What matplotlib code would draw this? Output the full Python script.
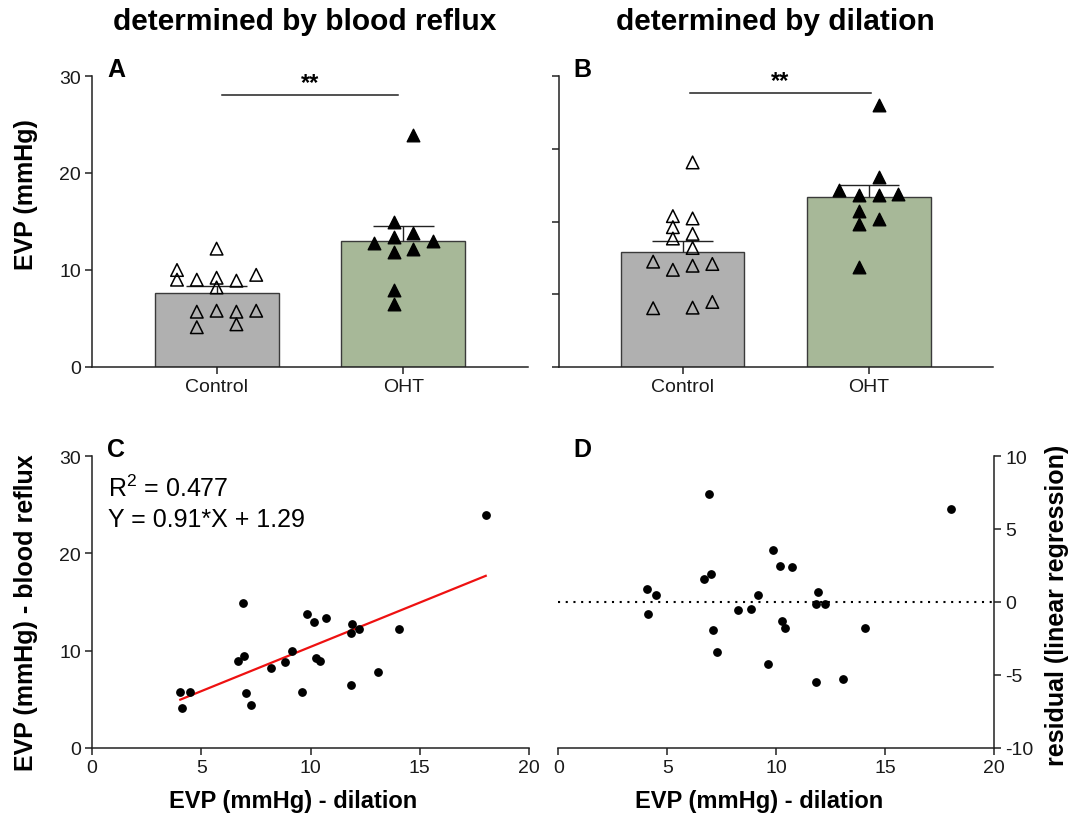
import matplotlib
matplotlib.use("Agg")
import matplotlib.pyplot as plt

plt.rcParams['font.family'] = ['Liberation Sans', 'DejaVu Sans']
plt.rcParams['mathtext.fontset'] = 'custom'
plt.rcParams['mathtext.rm'] = 'Liberation Sans'
plt.rcParams['axes.unicode_minus'] = False

# panel A - EVP determined by blood reflux (mmHg)
a_control = [12.2, 10.0, 9.0, 9.0, 9.2, 8.9, 9.5, 8.2, 5.7, 5.8, 5.7, 5.8, 4.1, 4.4]
a_control_slot = [0, -2, -2, -1, 0, 1, 2, 0, -1, 0, 1, 2, -1, 1]
a_oht = [23.9, 14.9, 13.4, 13.8, 12.8, 13.0, 11.9, 12.2, 7.9, 6.5]
a_oht_slot = [0.5, -0.5, -0.5, 0.5, -1.5, 1.5, -0.5, 0.5, -0.5, -0.5]
a_mean = [7.66, 13.0]
a_sem = [0.65, 1.55]

# panel B - EVP determined by dilation (mmHg)
b_control = [14.06, 10.37, 10.21, 9.61, 8.83, 9.15, 8.18, 7.24, 6.68, 6.96, 7.08, 4.04, 4.08, 4.47]
b_control_slot = [0.5, -0.5, 0.5, -0.5, -0.5, 0.5, 0.5, -1.5, -0.5, 0.5, 1.5, -1.5, 0.5, 1.5]
b_oht = [18.02, 13.09, 12.16, 11.82, 11.82, 11.91, 10.69, 10.14, 9.84, 6.84]
b_oht_slot = [0.5, 0.5, -1.5, -0.5, 0.5, 1.5, -0.5, 0.5, -0.5, -0.5]
b_mean = [7.90, 11.68]
b_sem = [0.76, 0.86]

groups = ["Control", "OHT"]

# panel C - correlation
c_x = [18.02, 6.90, 9.84, 10.17, 10.69, 11.91, 11.84, 12.22, 14.07, 9.14, 6.70, 6.97,
       8.83, 8.21, 10.24, 10.42, 13.07, 11.85, 4.04, 4.47, 4.10, 7.06, 7.26, 9.62]
c_y = [23.95, 14.87, 13.74, 12.95, 13.33, 12.78, 11.82, 12.20, 12.20, 9.97, 8.91, 9.46,
       8.84, 8.19, 9.25, 8.91, 7.84, 6.51, 5.79, 5.79, 4.11, 5.68, 4.45, 5.76]
slope, intercept = 0.91, 1.29
r_squared = 0.477
fit_range = [4.04, 18.02]

# panel D - residuals
d_x = [18.01, 6.90, 9.85, 10.17, 10.72, 6.99, 6.70, 4.07, 4.50, 9.14, 11.93, 11.83,
       12.23, 4.11, 8.23, 8.84, 10.24, 10.41, 14.07, 7.08, 7.29, 9.63, 11.83, 13.07]
d_res = [6.35, 7.36, 3.53, 2.45, 2.36, 1.90, 1.58, 0.85, 0.46, 0.44, 0.69, -0.18,
         -0.16, -0.87, -0.55, -0.48, -1.33, -1.81, -1.83, -1.97, -3.44, -4.27, -5.48, -5.30]

W, H = 1072, 820
fig = plt.figure(figsize=(W / 100, H / 100), dpi=100)


def box(l, t, r, b):
    return [l / W, 1 - b / H, (r - l) / W, (b - t) / H]


axA = fig.add_axes(box(92, 77, 528, 368))
axB = fig.add_axes(box(558.6, 77, 993, 368))
axC = fig.add_axes(box(92, 457, 529, 749))
axD = fig.add_axes(box(558.3, 457, 994.3, 748.5))

spine_c = '#222222'
tick_fs = 14


def style(ax):
    for s in ax.spines.values():
        s.set_linewidth(1.1)
        s.set_color(spine_c)
    ax.tick_params(direction='out', length=5, width=1.1, color=spine_c,
                   labelsize=tick_fs, pad=3, labelcolor='#1a1a1a')


def bar_panel(ax, ctrl, ctrl_slot, oht, oht_slot, mean, sem, step, ymax, yt, sig_y, sig_x):
    ax.bar([0, 1], mean, width=0.663, color=['#b0b0b0', '#a7b898'],
           edgecolor='#3a3a3a', linewidth=1.0, zorder=1)
    for i in range(2):
        ax.vlines(i, mean[i], mean[i] + sem[i], color='#222222', lw=1.0, zorder=2)
        ax.hlines(mean[i] + sem[i], i - 0.163, i + 0.163, color='#222222', lw=1.0, zorder=2)
    ax.scatter([s * step for s in ctrl_slot], ctrl, marker='^', s=82,
               facecolors='none', edgecolors='black', linewidths=1.1, zorder=3)
    ax.scatter([1 + s * step for s in oht_slot], oht, marker='^', s=82,
               color='black', zorder=3)
    ax.plot(sig_x, [sig_y, sig_y], color='#222222', lw=1.1)
    ax.text(sum(sig_x) / 2, sig_y + ymax * 0.004, '**', ha='center', va='bottom',
            fontsize=17, fontweight='bold')
    ax.set_xlim(-0.667, 1.667)
    ax.set_ylim(0, ymax)
    ax.set_yticks(yt)
    ax.set_xticks([0, 1])
    ax.set_xticklabels(groups)
    ax.spines['top'].set_visible(False)
    ax.spines['right'].set_visible(False)
    style(ax)


bar_panel(axA, a_control, a_control_slot, a_oht, a_oht_slot, a_mean, a_sem,
          0.106, 30, [0, 10, 20, 30], 28.0, [0.03, 0.97])
bar_panel(axB, b_control, b_control_slot, b_oht, b_oht_slot, b_mean, b_sem,
          0.106, 20, [0, 5, 10, 15, 20], 18.85, [0.04, 1.01])
axB.set_yticklabels([])

# panel C
axC.scatter(c_x, c_y, s=28, color='black', zorder=3)
axC.plot(fit_range, [slope * x + intercept for x in fit_range], color='#ee1111', lw=1.6, zorder=2)
axC.set_xlim(0, 20)
axC.set_ylim(0, 30)
axC.set_xticks([0, 5, 10, 15, 20])
axC.set_yticks([0, 10, 20, 30])
axC.spines['top'].set_visible(False)
axC.spines['right'].set_visible(False)
style(axC)
axC.text(0.037, 0.863, r'R$^\mathregular{2}$ = %.3f' % r_squared, transform=axC.transAxes,
         fontsize=18, va='baseline')
axC.text(0.037, 0.760, 'Y = %.2f*X + %.2f' % (slope, intercept), transform=axC.transAxes,
         fontsize=18, va='baseline')

# panel D
axD.scatter(d_x, d_res, s=28, color='black', zorder=3)
axD.axhline(0, color='black', lw=1.5, linestyle=(0, (1, 2.7)), zorder=1)
axD.set_xlim(0, 20)
axD.set_ylim(-10, 10)
axD.set_xticks([0, 5, 10, 15, 20])
axD.set_yticks([-10, -5, 0, 5, 10])
axD.yaxis.tick_right()
axD.spines['top'].set_visible(False)
axD.spines['left'].set_visible(False)
style(axD)

# panel letters
for ax, letter in [(axA, 'A'), (axB, 'B'), (axC, 'C'), (axD, 'D')]:
    ax.text(0.035, 1.0, letter, transform=ax.transAxes, fontsize=18, fontweight='bold',
            ha='left', va='baseline')

# titles and axis labels
fig.text(305 / W, 1 - 22 / H, 'determined by blood reflux', ha='center', va='center',
         fontsize=21.5, fontweight='bold')
fig.text(775 / W, 1 - 22 / H, 'determined by dilation', ha='center', va='center',
         fontsize=21.5, fontweight='bold')
fig.text(26 / W, 1 - 195 / H, 'EVP (mmHg)', rotation=90, ha='center', va='center',
         fontsize=18, fontweight='bold')
fig.text(26 / W, 1 - 613 / H, 'EVP (mmHg) - blood reflux', rotation=90, ha='center',
         va='center', fontsize=18, fontweight='bold')
fig.text(1057 / W, 1 - 605 / H, 'residual (linear regression)', rotation=90, ha='center',
         va='center', fontsize=18, fontweight='bold')
fig.text(293 / W, 1 - 802 / H, 'EVP (mmHg) - dilation', ha='center', va='center',
         fontsize=17, fontweight='bold')
fig.text(759 / W, 1 - 802 / H, 'EVP (mmHg) - dilation', ha='center', va='center',
         fontsize=17, fontweight='bold')

fig.savefig('out.png', dpi=100)
